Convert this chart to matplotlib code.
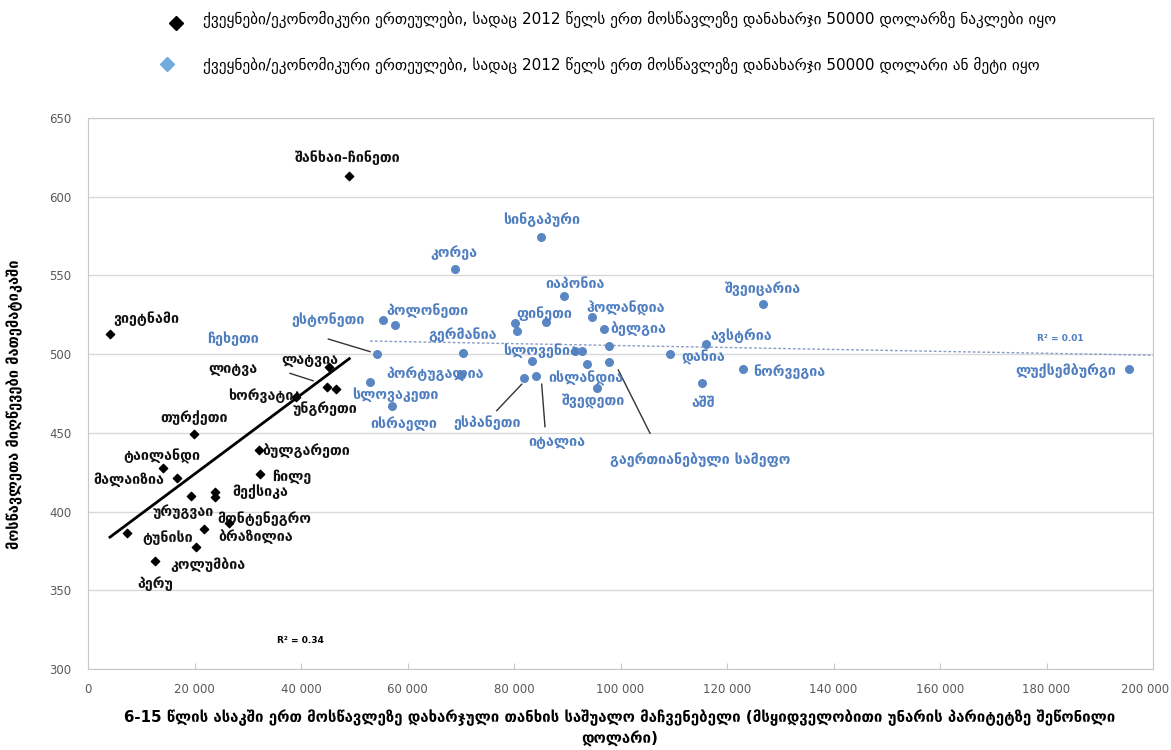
import numpy as np
import matplotlib
matplotlib.use("Agg")
import matplotlib.pyplot as plt
import matplotlib.transforms as mtransforms
from matplotlib.ticker import FuncFormatter

plt.rcParams['font.family'] = ['DejaVu Sans']

# ქვეყნები, სადაც დანახარჯი < 50000
low_names = ['შანხაი-ჩინეთი', 'ვიეტნამი', 'ლატვია', 'ლიტვა', 'უნგრეთი', 'ხორვატია',
             'თურქეთი', 'ტაილანდი', 'მალაიზია', 'ბულგარეთი', 'ჩილე', 'მექსიკა',
             'მონტენეგრო', 'ურუგვაი', 'ბრაზილია', 'ტუნისი', 'კოლუმბია', 'პერუ', '']
low_spend = [49070, 4130, 45260, 44880, 46570, 39060,
             19910, 14090, 16710, 32110, 32300, 23850,
             26540, 19340, 21780, 7320, 20280, 12580, 23850]
low_score = [613.2, 512.8, 491.8, 479.1, 477.9, 472.8,
             449.3, 427.7, 421.3, 439.1, 423.9, 412.2,
             392.5, 409.9, 388.9, 386.4, 377.5, 368.6, 409.1]

# ქვეყნები, სადაც დანახარჯი >= 50000
high_names = ['სინგაპური', 'კორეა', 'იაპონია', 'ესტონეთი', 'პოლონეთი', '', '',
              'ფინეთი', 'ჰოლანდია', 'ბელგია', '', 'ჩეხეთი', 'გერმანია', 'პორტუგალია',
              '', 'სლოვენია', '', 'ისლანდია', 'გაერთიანებული სამეფო', 'სლოვაკეთი',
              'ისრაელი', 'ესპანეთი', 'იტალია', 'შვედეთი', 'დანია', 'ავსტრია', 'აშშ',
              'ნორვეგია', 'შვეიცარია', 'ლუქსემბურგი']
high_spend = [85000, 68920, 89450, 55460, 57650, 80190, 80620,
              85920, 94740, 96960, 97900, 54220, 70480, 70060,
              83330, 91460, 92720, 93650, 97900, 52960,
              57040, 81940, 84140, 95650, 109370, 116060, 115370,
              123070, 126820, 195440]
high_score = [574.4, 554.1, 536.9, 521.7, 518.5, 519.6, 514.5,
              520.1, 523.8, 515.7, 505.0, 499.9, 500.5, 487.0,
              495.8, 502.2, 502.2, 493.7, 494.7, 482.5,
              467.0, 485.0, 486.1, 478.8, 500.4, 506.4, 481.9,
              490.4, 531.7, 490.8]

# წარწერების ადგილები (მარცხენა კიდე, ცენტრი)
low_label_pos = {
    'შანხაი-ჩინეთი': (38870, 625.0), 'ვიეტნამი': (4750, 522.8), 'ლატვია': (36380, 496.3),
    'ლიტვა': (22540, 490.4), 'ხორვატია': (26290, 473.4), 'უნგრეთი': (38500, 465.6),
    'თურქეთი': (13520, 459.9), 'ტაილანდი': (6570, 435.9), 'მალაიზია': (940, 420.1),
    'ბულგარეთი': (32680, 438.7), 'ჩილე': (34560, 421.8), 'მექსიკა': (27040, 412.6),
    'ურუგვაი': (12210, 399.9), 'მონტენეგრო': (24230, 395.7), 'ტუნისი': (10140, 383.7),
    'ბრაზილია': (24410, 384.1), 'კოლუმბია': (15400, 366.1), 'პერუ': (9200, 354.4),
}
high_label_pos = {
    'სინგაპური': (77940, 585.2), 'კორეა': (64230, 564.7), 'იაპონია': (85820, 544.6),
    'ესტონეთი': (38250, 522.1), 'პოლონეთი': (56100, 527.6), 'ფინეთი': (80510, 525.5),
    'ჰოლანდია': (93660, 529.8), 'ბელგია': (98030, 516.4), 'გერმანია': (63850, 512.2),
    'სლოვენია': (77940, 502.2), 'პორტუგალია': (56100, 487.8), 'სლოვაკეთი': (49520, 474.0),
    'ისლანდია': (86390, 484.6), 'შვედეთი': (88960, 470.4), 'ისრაელი': (52960, 456.0),
    'ესპანეთი': (68600, 456.5), 'იტალია': (82690, 444.4), 'გაერთიანებული სამეფო': (98030, 432.8),
    'ჩეხეთი': (22290, 510.1), 'ავსტრია': (116810, 511.7), 'დანია': (111500, 498.8),
    'აშშ': (113380, 468.8), 'ნორვეგია': (124940, 488.9), 'შვეიცარია': (119630, 541.8),
    'ლუქსემბურგი': (174090, 489.6),
}
# მიმთითებელი ხაზები
leaders = [((37940, 487.8), (42260, 483.1)),
           ((45130, 509.6), (52960, 501.6)),
           ((76750, 464.1), (81450, 480.9)),
           ((85820, 453.9), (85200, 480.9)),
           ((105550, 449.7), (99590, 489.9))]

legend_low = 'ქვეყნები/ეკონომიკური ერთეულები, სადაც 2012 წელს ერთ მოსწავლეზე დანახარჯი 50000 დოლარზე ნაკლები იყო'
legend_high = 'ქვეყნები/ეკონომიკური ერთეულები, სადაც 2012 წელს ერთ მოსწავლეზე დანახარჯი 50000 დოლარი ან მეტი იყო'
x_title = '6-15 წლის ასაკში ერთ მოსწავლეზე დახარჯული თანხის საშუალო მაჩვენებელი (მსყიდველობითი უნარის პარიტეტზე შეწონილი\nდოლარი)'
y_title = 'მოსწავლეთა მიღწევები მათემატიკაში'

BLUE = '#5a86c4'
BLUE_TXT = '#4e7ec0'

fig = plt.figure(figsize=(11.71, 7.5), dpi=100)
ax = fig.add_axes([88 / 1171, 81 / 750, 1065 / 1171, 551 / 750])

ax.set_xlim(0, 200000)
ax.set_ylim(300, 650)
ax.set_yticks(np.arange(300, 651, 50))
ax.set_xticks(np.arange(0, 200001, 20000))
ax.xaxis.set_major_formatter(FuncFormatter(lambda v, p: '0' if v == 0 else f'{int(v):,}'.replace(',', ' ')))
ax.grid(axis='y', color='#d9d9d9', lw=1)
ax.set_axisbelow(True)
for s in ax.spines.values():
    s.set_color('#c8c8c8')
ax.tick_params(axis='y', length=0, pad=12, labelsize=8.5, labelcolor='#595959')
ax.tick_params(axis='x', direction='in', length=4, color='#c8c8c8', pad=10, labelsize=8.5, labelcolor='#595959')
# ბოლო წარწერა კიდეზე არ გადავიდეს
last = ax.get_xticklabels()[-1]
last.set_horizontalalignment('right')
last.set_transform(last.get_transform() + mtransforms.ScaledTranslation(16 / 100, 0, fig.dpi_scale_trans))

# წერტილები
ax.scatter(low_spend, low_score, marker='D', s=18, color='black', zorder=3)
ax.scatter(high_spend, high_score, marker='o', s=30, color=BLUE, zorder=3)

# ტრენდები
k1, b1 = np.polyfit(low_spend, low_score, 1)
xs1 = np.array([min(low_spend), max(low_spend)])
ax.plot(xs1, k1 * xs1 + b1, color='black', lw=2, zorder=2)
k2, b2 = np.polyfit(high_spend, high_score, 1)
xs2 = np.array([min(high_spend), 200000])
ax.plot(xs2, k2 * xs2 + b2, color='#8a9bc4', lw=1, ls=(0, (2, 1.5)), zorder=2)
ax.text(39810, 317.8, 'R² = 0.34', fontsize=6.5, fontweight='bold', ha='center', va='center')
ax.text(182540, 510.2, 'R² = 0.01', fontsize=6.5, fontweight='bold', color=BLUE_TXT, ha='center', va='center')

for (a, b) in leaders:
    ax.plot([a[0], b[0]], [a[1], b[1]], color='#333333', lw=1, zorder=2)

for name, pos in low_label_pos.items():
    ax.text(pos[0], pos[1], name, fontsize=10.3, fontweight='bold', color='#111111',
            ha='left', va='center', zorder=4)
for name, pos in high_label_pos.items():
    ax.text(pos[0], pos[1], name, fontsize=10.3, fontweight='bold', color=BLUE_TXT,
            ha='left', va='center', zorder=4)

# ლეგენდა
fig.lines.append(plt.Line2D([176 / 1171], [1 - 23 / 750], marker='D', ms=7, color='black', transform=fig.transFigure))
fig.lines.append(plt.Line2D([167 / 1171], [1 - 64 / 750], marker='D', ms=7, color='#72a9de', transform=fig.transFigure))
fig.text(203 / 1171, 1 - 20 / 750, legend_low, fontsize=11, ha='left', va='center')
fig.text(203 / 1171, 1 - 66 / 750, legend_high, fontsize=11, ha='left', va='center')

fig.text(620 / 1171, 1 - 728 / 750, x_title, fontsize=10.8, fontweight='bold', ha='center', va='center', linespacing=1.3)
fig.text(15 / 1171, 1 - 404 / 750, y_title, fontsize=10.5, fontweight='bold', ha='center', va='center', rotation=90)

fig.savefig('out.png', dpi=100)
